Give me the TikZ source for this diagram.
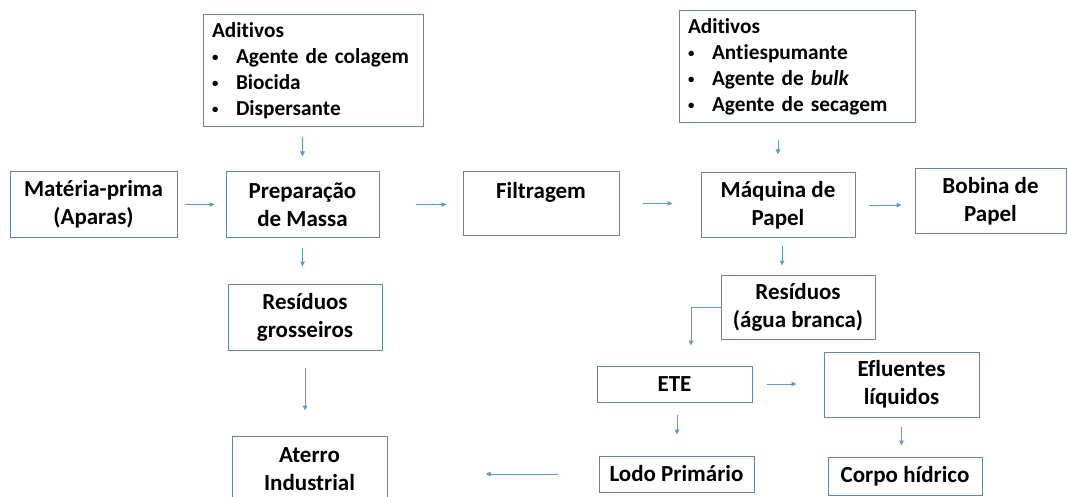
\documentclass[tikz,border=0pt]{standalone}
\usepackage{fontspec}
\setmainfont[Ligatures=NoCommon]{Carlito}
\usepackage{xcolor}
\definecolor{boxedge}{HTML}{6586AB}
\definecolor{flow}{HTML}{5B9BD5}
\usetikzlibrary{arrows.meta,positioning,calc}
\newcommand{\itemdot}{\makebox[24pt][l]{\raisebox{2pt}{\scalebox{0.6}{\textbullet}}}}

\begin{document}
\begin{tikzpicture}[x=1pt, y=-1pt, font=\fontsize{23}{28}\selectfont\bfseries,
  blk/.style={draw=boxedge, line width=1pt, align=center, inner sep=0pt},
  lst/.style={blk, align=left, inner xsep=9pt, font=\fontsize{21.3}{26}\selectfont\bfseries},
  arr/.style={-{Triangle[length=5pt,width=4.5pt]}, draw=flow, line width=1pt}]
\useasboundingbox (0,0) rectangle (1067,497);
\node[lst, text width=202pt, minimum height=112pt] (adit1) at (313,71) {
  Aditivos\\\mbox{\itemdot Agente de colagem}\\\itemdot Biocida\\\itemdot Dispersante
};
\node[lst, text width=218pt, minimum height=112pt] (adit2) at (797,67) {
  Aditivos\\\itemdot Antiespumante\\\itemdot Agente de \textit{bulk}\\\mbox{\itemdot Agente de secagem}
};
\node[blk, minimum width=167pt, minimum height=65pt] (mat) at (93.5,204.5) {Matéria-prima\\(Aparas)};
\node[blk, minimum width=153pt, minimum height=65pt] (prep) at (302.5,204.5) {Preparação\\de Massa};
\node[blk, minimum width=156pt, minimum height=63pt] (filt) at (541,203.5) {Filtragem\\[-10pt]\strut};
\node[blk, minimum width=154pt, minimum height=64pt] (maq) at (778,205) {Máquina de\\Papel};
\node[blk, minimum width=151pt, minimum height=64pt] (bob) at (990.5,201) {Bobina de\\Papel};
\node[blk, minimum width=154pt, minimum height=66pt] (gros) at (305,317) {Resíduos\\grosseiros};
\node[blk, minimum width=155pt, minimum height=66pt] (ater) at (309.5,469) {Aterro\\Industrial};
\node[blk, minimum width=154pt, minimum height=64pt] (resb) at (798,307) {Resíduos\\(água branca)};
\node[blk, minimum width=155pt, minimum height=36pt] (ete) at (674.5,384) {ETE};
\node[blk, minimum width=155pt, minimum height=65pt] (efl) at (901.5,384.5) {Efluentes\\líquidos};
\node[blk, minimum width=155pt, minimum height=36pt] (lodo) at (676.5,474) {Lodo Primário};
\node[blk, minimum width=154pt, minimum height=38pt] (corpo) at (905,476) {Corpo hídrico};
\draw[arr, shorten <=10pt, shorten >=15pt] (prep.north |- adit1.south) -- (prep.north);
\draw[arr, shorten <=7pt, shorten >=11pt] (mat.east) -- (prep.west);
\draw[arr, shorten <=36pt, shorten >=16pt] (prep.east) -- (prep.east -| filt.west);
\draw[arr, shorten <=23pt, shorten >=28pt] (filt.east) -- (filt.east -| maq.west);
\draw[arr, shorten <=13pt, shorten >=13pt] (maq.east) -- (maq.east -| bob.west);
\draw[arr, shorten <=17pt, shorten >=18pt] (maq.north |- adit2.south) -- (maq.north);
\draw[arr, shorten <=8pt, shorten >=9pt] ([xshift=4pt]maq.south) -- ([xshift=4pt]maq.south |- resb.north);
\draw[arr, shorten <=10pt, shorten >=17pt] (prep.south) -- (prep.south |- gros.north);
\draw[arr, shorten <=17pt, shorten >=25pt] (gros.south) -- (gros.south |- ater.north);
\draw[arr, shorten >=20pt] (resb.west) -| ([xshift=16.5pt]ete.north);
\draw[arr, shorten <=14pt, shorten >=27pt] (ete.east) -- (ete.east -| efl.west);
\draw[arr, shorten <=12pt, shorten >=21pt] ([xshift=2.5pt]ete.south) -- ([xshift=2.5pt]ete.south |- lodo.north);
\draw[arr, shorten <=9pt, shorten >=11pt] (efl.south) -- (efl.south |- corpo.north);
\draw[arr, shorten <=41pt, shorten >=98pt] (lodo.west) -- (lodo.west -| ater.east);
\end{tikzpicture}
\end{document}
